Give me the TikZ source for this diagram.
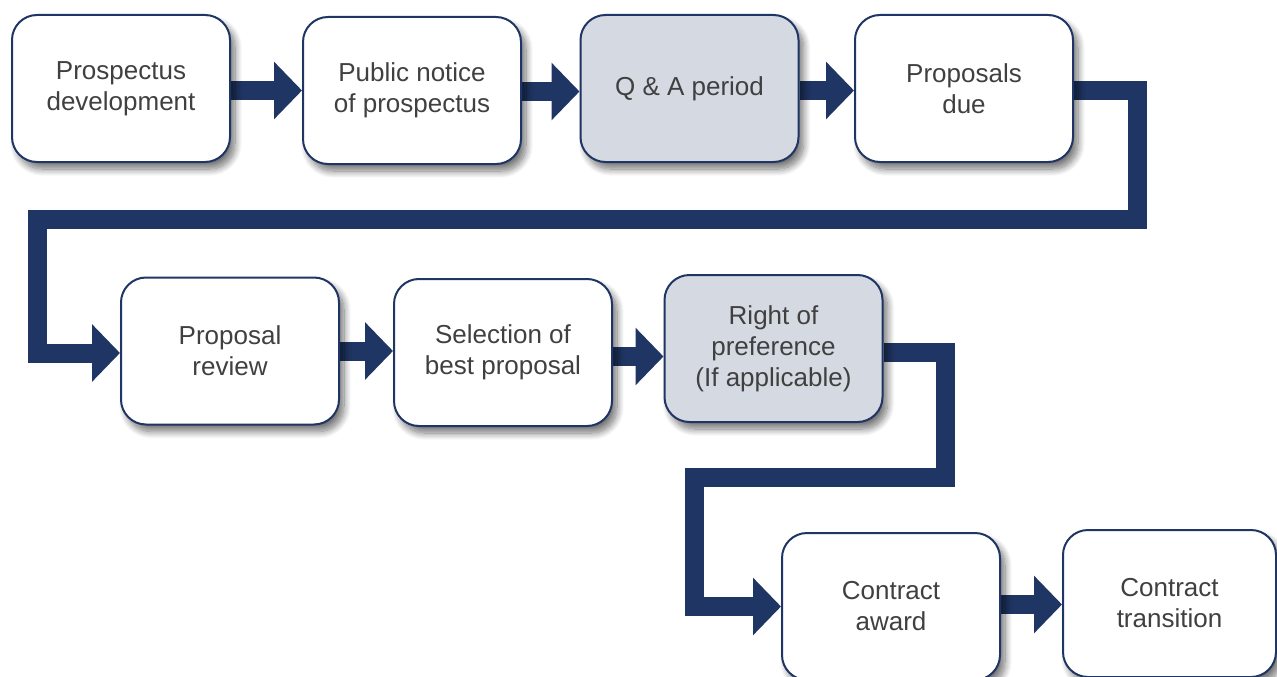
\documentclass[tikz,border=0pt]{standalone}
\usepackage{fontspec}
\setmainfont{Liberation Sans}
\usetikzlibrary{arrows.meta,shadows.blur,backgrounds}
\definecolor{navy}{RGB}{31,53,99}
\definecolor{boxgray}{RGB}{212,217,226}
\definecolor{txt}{RGB}{64,64,64}
\begin{document}
\begin{tikzpicture}[x=1pt,y=-1pt,
  stepbox/.style={draw=navy, line width=2pt, fill=white, rounded corners=25pt,
    minimum width=218pt, minimum height=147pt, align=center, text=txt,
    font=\fontsize{26}{31}\selectfont,
    blur shadow={shadow xshift=5pt, shadow yshift=-7pt, shadow blur radius=7pt, shadow blur steps=12, shadow opacity=55}},
  graybox/.style={stepbox, fill=boxgray},
  arr/.style={draw=navy, line width=19pt, line join=miter,
    -{Triangle[length=28pt,width=56pt]}}]
\useasboundingbox (0,0) rectangle (1277,677);
% boxes
\node[stepbox] (b1) at (121,88.5) {Prospectus\\development};
\node[stepbox] (b2) at (412,90.5) {Public notice\\of prospectus};
\node[graybox] (b3) at (689.5,88.5) {Q \& A period};
\node[stepbox] (b4) at (964,88.5) {Proposals\\due};
\node[stepbox] (b5) at (230,351) {Proposal\\review};
\node[stepbox] (b6) at (503,352.5) {Selection of\\best proposal};
\node[graybox] (b7) at (773.5,348.5) {Right of\\preference\\(If applicable)};
\node[stepbox] (b8) at (891,606.5) {Contract\\award};
\node[stepbox, minimum width=213pt] (b9) at (1169.5,603.5) {Contract\\transition};
\coordinate (c1) at (1137,219);
\coordinate (c2) at (37,219);
\coordinate (c3) at (945,477);
\coordinate (c4) at (694,477);
% connectors
\begin{scope}[on background layer]
\draw[arr] ([yshift=-2pt]b1.east) -- ([yshift=-2pt]b1.east -| b2.west);
\draw[arr] ([yshift=-1pt]b2.east) -- ([yshift=-1pt]b2.east -| b3.west);
\draw[arr] ([yshift=-2pt]b3.east) -- ([yshift=-2pt]b3.east -| b4.west);
\draw[arr] ([yshift=-2pt]b4.east) -| (c1) -- (c2) |- ([yshift=-2pt]b5.west);
\draw[arr] (b5.east) -- (b5.east -| b6.west);
\draw[arr] ([yshift=-4pt]b6.east) -- ([yshift=-4pt]b6.east -| b7.west);
\draw[arr] ([yshift=-4pt]b7.east) -| (c3) -- (c4) |- (b8.west);
\draw[arr] ([yshift=2pt]b8.east) -- ([yshift=2pt]b8.east -| b9.west);
\end{scope}
\end{tikzpicture}
\end{document}
